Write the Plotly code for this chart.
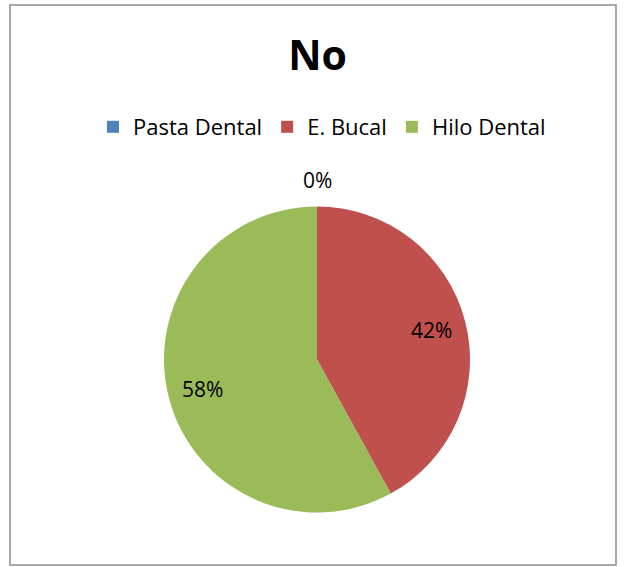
import math
import plotly.graph_objects as go

labels = ["Pasta Dental", "E. Bucal", "Hilo Dental"]
values = [0, 42, 58]
colors = ["#4F81BD", "#C0504D", "#9BBB59"]
title_text = "No"

W, H = 624, 567
font_family = "'Open Sans', sans-serif"

# pie geometry (pixels)
cx, cy, R = 317, 359.5, 153

fig = go.Figure(go.Pie(
    labels=labels,
    values=values,
    sort=False,
    direction="clockwise",
    rotation=0,
    marker=dict(colors=colors, line=dict(width=0)),
    textinfo="none",
    domain=dict(x=[(cx - R) / W, (cx + R) / W], y=[(H - cy - R) / H, (H - cy + R) / H]),
    showlegend=True,
))

# percentage labels, positioned from the data (slice mid-angles)
total = sum(values)
annotations = []
cum = 0.0
for v in values:
    f = v / total
    mid = (cum + f / 2) * 2 * math.pi
    cum += f
    pct = f"{round(f * 100):d}%"
    if f == 0:
        r = R + 10
        yanchor = "bottom"
    else:
        r = 0.77 * R
        yanchor = "middle"
    px = cx + r * math.sin(mid)
    py = cy - r * math.cos(mid)
    annotations.append(dict(x=px / W, y=1 - py / H, xref="paper", yref="paper",
                            text=pct, showarrow=False, xanchor="center", yanchor=yanchor,
                            font=dict(size=21, family=font_family, color="#000000")))

fig.update_layout(
    width=W, height=H,
    margin=dict(l=0, r=0, t=0, b=0),
    paper_bgcolor="white",
    plot_bgcolor="white",
    font=dict(family=font_family, color="#000000"),
    title=dict(text="<b>" + title_text + "</b>", x=317.5 / W, xanchor="center",
               y=1 - 56 / H, yanchor="middle",
               font=dict(size=41, family=font_family, color="#000000")),
    legend=dict(orientation="h", x=322 / W, xanchor="center", y=1 - 127 / H, yanchor="middle",
                font=dict(size=22, family=font_family, color="#000000"),
                itemwidth=30, traceorder="normal"),
    annotations=annotations,
    shapes=[dict(type="rect", xref="paper", yref="paper",
                 x0=10 / W, x1=616 / W, y0=2 / H, y1=1 - 5 / H,
                 line=dict(color="#8C8C8C", width=1.5), fillcolor="rgba(0,0,0,0)")],
)

fig.write_html("out.html", config={"displayModeBar": False},
               post_script="document.body.style.margin='0';document.body.style.overflow='hidden';")
